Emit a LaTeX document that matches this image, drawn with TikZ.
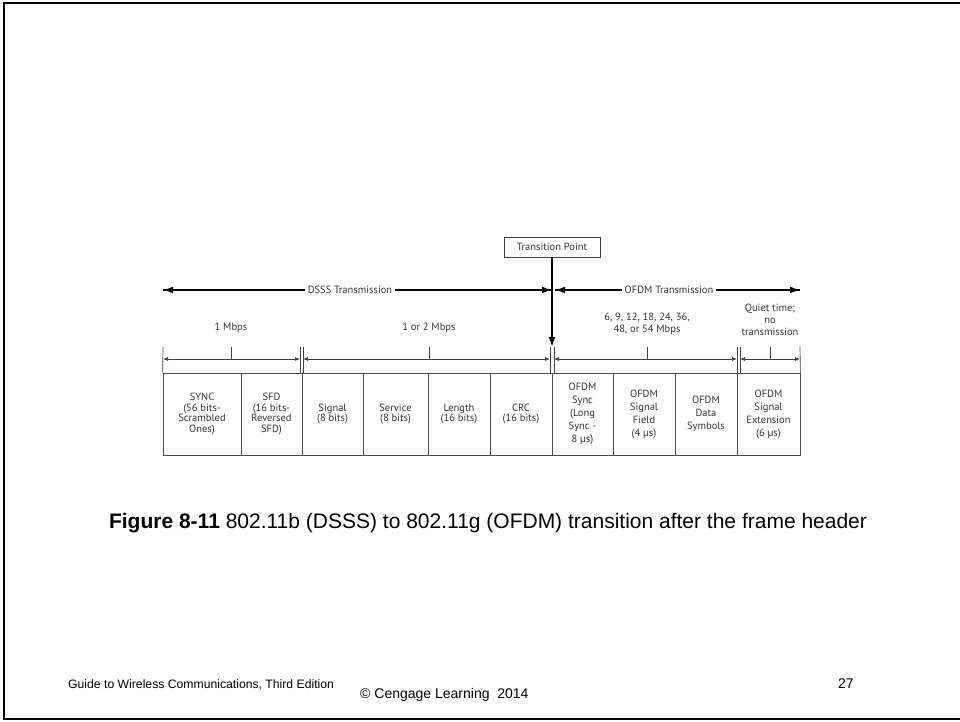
\documentclass[tikz,border=0pt]{standalone}
\usepackage{fontspec}
\setmainfont{Liberation Sans}
\newfontfamily\diag{PT Sans}
\usetikzlibrary{arrows.meta}
\begin{document}
\begin{tikzpicture}[x=1pt,y=-1pt,
  cell/.style={draw=black!70,line width=0.8pt,minimum height=82pt,inner sep=0pt,align=center,font=\diag\fontsize{10.5}{10.8}\selectfont,text=black!80},
  ocell/.style={cell,font=\diag\fontsize{10.5}{13}\selectfont},
  lbl/.style={align=center,font=\diag\fontsize{10.5}{12.3}\selectfont,text=black!80,inner sep=1pt},
  bigarrow/.style={line width=1.6pt,-{Latex[length=10pt,width=7pt]}},
  dimarrow/.style={line width=0.7pt,draw=black!75,{Latex[length=5pt,width=4pt]}-{Latex[length=5pt,width=4pt]}},
  thin/.style={line width=0.7pt,draw=black!75}]
\useasboundingbox (0,0) rectangle (960,721);
% page frame
\draw[line width=2pt] (962,3) -- (4,3) -- (4,719) -- (962,719);
% cells
\node[cell,minimum width=78pt] (c1) at (202,414) {SYNC\\(56 bits-\\Scrambled\\Ones)};
\node[cell,minimum width=61pt] (c2) at (271.5,414) {SFD\\(16 bits-\\Reversed\\SFD)};
\node[cell,minimum width=61pt] (c3) at (332.5,414) {Signal\\(8 bits)};
\node[cell,minimum width=65pt] (c4) at (395.5,414) {Service\\(8 bits)};
\node[cell,minimum width=62pt] (c5) at (459,414) {Length\\(16 bits)};
\node[cell,minimum width=62pt] (c6) at (521,414) {CRC\\(16 bits)};
\node[ocell,minimum width=61pt] (c7) at (582.5,414) {OFDM\\Sync\\(Long\\Sync -\\8 µs)};
\node[ocell,minimum width=62pt] (c8) at (644,414) {OFDM\\Signal\\Field\\(4 µs)};
\node[ocell,minimum width=62pt] (c9) at (706,414) {OFDM\\Data\\Symbols};
\node[ocell,minimum width=63pt] (c10) at (768.5,414) {OFDM\\Signal\\Extension\\(6 µs)};
% extension lines
\coordinate (e1) at (163,347);
\coordinate (e2a) at (300,347); \coordinate (e2b) at (303,347);
\coordinate (e3a) at (550,347); \coordinate (e3b) at (554,347);
\coordinate (e4a) at (737,347); \coordinate (e4b) at (740,347);
\coordinate (e5) at (800,347);
\draw[thin] (e1) -- (c1.north west);
\draw[thin] (e2a) -- (300,373);
\draw[thin] (e2b) -- (303,373);
\draw[thin] (e3a) -- (550,373);
\draw[thin] (e3b) -- (554,373);
\draw[thin] (e4a) -- (737,373);
\draw[thin] (e4b) -- (740,373);
\draw[thin] (e5) -- (c10.north east);
% dimension arrows
\coordinate (d1l) at (163,359); \coordinate (d1r) at (300,359);
\coordinate (d2l) at (303,359); \coordinate (d2r) at (550,359);
\coordinate (d3l) at (554,359); \coordinate (d3r) at (737,359);
\coordinate (d4l) at (740,359); \coordinate (d4r) at (800,359);
\draw[dimarrow] (d1l) -- (d1r);
\draw[dimarrow] (d2l) -- (d2r);
\draw[dimarrow] (d3l) -- (d3r);
\draw[dimarrow] (d4l) -- (d4r);
% rate labels and ticks
\node[lbl] (r1) at (231,328) {1 Mbps};
\node[lbl] (r2) at (429,328) {1 or 2 Mbps};
\node[lbl] (r3) at (647,324) {6, 9, 12, 18, 24, 36,\\48, or 54 Mbps};
\node[lbl] (r4) at (770,320) {Quiet time;\\no\\transmission};
\coordinate (t1) at (231,359); \coordinate (t2) at (429,359);
\coordinate (t3) at (647,359); \coordinate (t4) at (770,359);
\draw[thin] (231,347) -- (t1);
\draw[thin] (429,347) -- (t2);
\draw[thin] (647,347) -- (t3);
\draw[thin] (770,347) -- (t4);
% transmission arrows
\coordinate (dsL) at (163,290); \coordinate (dsR) at (552,290);
\coordinate (ofL) at (555,290); \coordinate (ofR) at (800,290);
\draw[bigarrow] (dsR) -- (dsL);
\draw[bigarrow] (dsL) -- (dsR);
\draw[bigarrow] (ofR) -- (ofL);
\draw[bigarrow] (ofL) -- (ofR);
\node[lbl,fill=white,inner sep=3pt] (dsT) at (350,290) {DSSS Transmission};
\node[lbl,fill=white,inner sep=3pt] (ofT) at (669,290) {OFDM Transmission};
% transition point
\node[draw=black!75,line width=0.7pt,minimum width=96pt,minimum height=20pt,inner sep=0pt,font=\diag\fontsize{10.5}{12}\selectfont,text=black!80] (tp) at (552,247) {Transition Point};
\coordinate (tpEnd) at (552,347);
\draw[bigarrow] (tp.south) -- (tpEnd);
% caption
\node[anchor=base,font=\fontsize{21}{24}\selectfont,inner sep=0pt] (cap) at (488,528) {\textbf{Figure 8-11} 802.11b (DSSS) to 802.11g (OFDM) transition after the frame header};
% footer
\node[anchor=base west,font=\fontsize{12.2}{15}\selectfont,inner sep=0pt] (f1) at (68,688) {Guide to Wireless Communications, Third Edition};
\node[anchor=base west,font=\fontsize{14}{16}\selectfont,inner sep=0pt] (f2) at (360,698) {© Cengage Learning~ 2014};
\node[anchor=base west,font=\fontsize{14}{16}\selectfont,inner sep=0pt] (f3) at (838,688) {27};
\end{tikzpicture}
\end{document}
